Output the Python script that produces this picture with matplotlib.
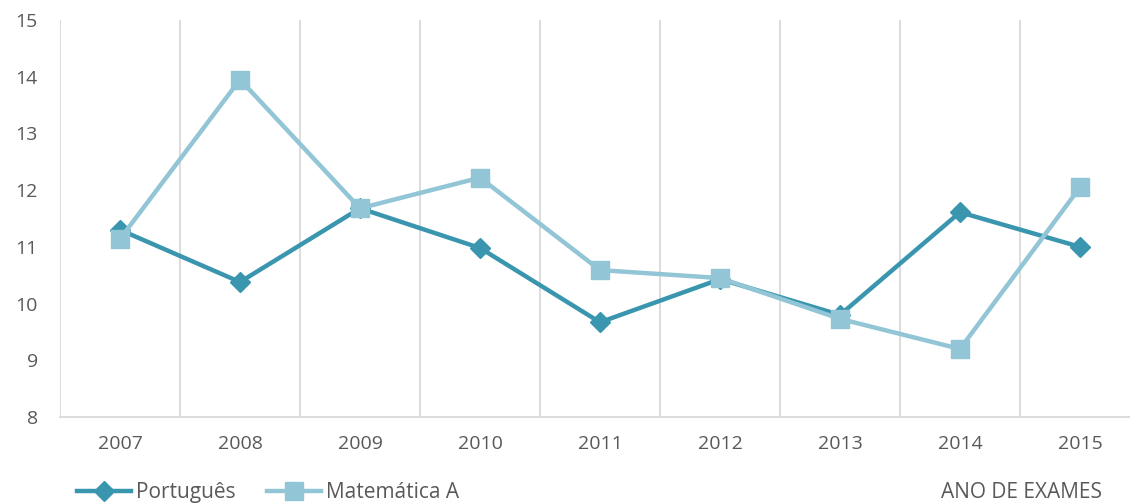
import matplotlib.pyplot as plt
from matplotlib.lines import Line2D

anos = ["2007", "2008", "2009", "2010", "2011", "2012", "2013", "2014", "2015"]
portugues = [11.30, 10.38, 11.68, 10.98, 9.67, 10.43, 9.80, 11.61, 11.00]
matematica = [11.14, 13.95, 11.68, 12.22, 10.59, 10.45, 9.73, 9.20, 12.05]

cor_pt = "#3A96AE"
cor_mat = "#92C5D6"
cinza = "#595959"

plt.rcParams["font.family"] = ["Open Sans", "DejaVu Sans"]

fig = plt.figure(figsize=(11.3, 5.04), dpi=100)
ax = fig.add_axes([60 / 1130, 87 / 504, 1080 / 1130, 397 / 504])

x = list(range(len(anos)))
ax.plot(x, portugues, color=cor_pt, lw=3.2, marker="D", ms=10, zorder=3)
ax.plot(x, matematica, color=cor_mat, lw=3.2, marker="s", ms=12.5, zorder=4)

ax.set_xlim(-0.5, len(anos) - 0.5)
ax.set_ylim(8, 15)
ax.set_yticks(range(8, 16))
ax.set_xticks(x)
ax.set_xticklabels(anos)

# grelha vertical entre categorias
for b in range(len(anos)):
    ax.axvline(b - 0.5, color="#D9D9D9", lw=1.3, zorder=1)

for s in ["top", "right", "left"]:
    ax.spines[s].set_visible(False)
ax.spines["bottom"].set_color("#D9D9D9")
ax.spines["bottom"].set_linewidth(1.3)

ax.tick_params(axis="both", length=0, labelsize=14, colors=cinza)
ax.tick_params(axis="x", pad=13)
ax.tick_params(axis="y", pad=16)

handles = [
    Line2D([], [], color=cor_pt, lw=3.2, marker="D", ms=10),
    Line2D([], [], color=cor_mat, lw=3.2, marker="s", ms=12.5),
]
fig.legend(handles, ["Português", "Matemática A"], loc="lower left",
           bbox_to_anchor=(58 / 1130, -0.035), ncol=2, frameon=False,
           fontsize=15, labelcolor=cinza, handlelength=2.6,
           handletextpad=0.25, columnspacing=1.5)

fig.text(1102 / 1130, 12 / 504, "ANO DE EXAMES", ha="right", va="center",
         fontsize=15, color=cinza)

fig.savefig("out.png", dpi=100)
